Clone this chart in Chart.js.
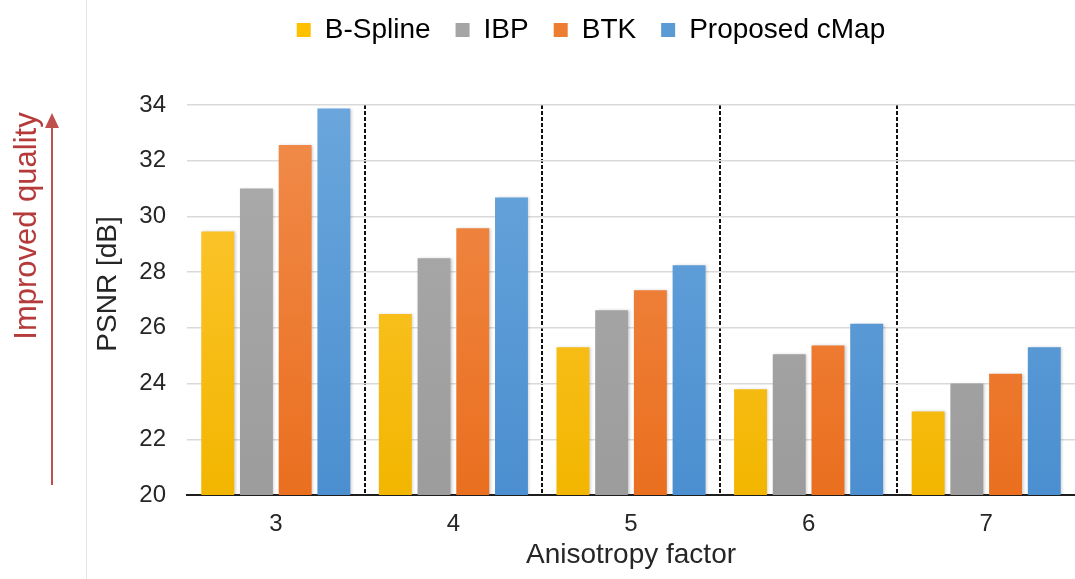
<!DOCTYPE html>
<html>
<head>
<meta charset="utf-8">
<script src="https://cdn.jsdelivr.net/npm/chart.js@4.4.0/dist/chart.umd.min.js"></script>
<style>
  html, body { margin: 0; padding: 0; background: #ffffff; }
  #wrap { width: 1075px; height: 579px; position: relative; }
</style>
</head>
<body>
<div id="wrap"><canvas id="c" width="1075" height="579"></canvas></div>
<script>
// ---- data ----
const categories = ['3', '4', '5', '6', '7'];
const seriesNames = ['B-Spline', 'IBP', 'BTK', 'Proposed cMap'];
const bSpline = [29.46, 26.5, 25.3, 23.8, 23.0];
const ibp = [31.0, 28.5, 26.63, 25.05, 24.0];
const btk = [32.56, 29.58, 27.35, 25.37, 24.35];
const cMap = [33.87, 30.68, 28.25, 26.15, 25.3];
const yMin = 20;
const yMax = 34;
const yStep = 2;
const xTitle = 'Anisotropy factor';
const yTitle = 'PSNR [dB]';
const sideNote = 'Improved quality';

// ---- styles ----
const FONT = '"Liberation Sans", Arial, sans-serif';
const TEXT = '#262626';
const palette = [
  ['#ffc83a', '#f2b600'],
  ['#acacac', '#9c9c9c'],
  ['#f18c4c', '#ea6f1f'],
  ['#6aa6dc', '#4b8fd0']
];
const solid = ['#ffc000', '#a5a5a5', '#ed7d31', '#5b9bd5'];

function gradFill(i) {
  return function(ctx) {
    const chart = ctx.chart;
    const a = chart.chartArea;
    if (!a) return solid[i];
    const g = chart.ctx.createLinearGradient(0, a.top, 0, a.bottom);
    g.addColorStop(0, palette[i][0]);
    g.addColorStop(1, palette[i][1]);
    return g;
  };
}

const allSeries = [bSpline, ibp, btk, cMap];
const datasets = allSeries.map((vals, i) => ({
  label: seriesNames[i],
  data: vals,
  backgroundColor: gradFill(i),
  borderWidth: 0,
  categoryPercentage: 0.872,
  barPercentage: 0.85
}));

// extra space below the legend row
const legendGap = {
  id: 'legendGap',
  beforeLayout(chart) {
    const lg = chart.legend;
    if (lg && !lg._gapPatched) {
      const orig = lg.fit.bind(lg);
      lg.fit = function() { orig(); this.height += 51; };
      lg._gapPatched = true;
    }
  }
};

const sideDecor = {
  id: 'sideDecor',
  beforeDraw(chart) {
    const c = chart.ctx;
    c.save();
    c.strokeStyle = '#e6e6e6';
    c.lineWidth = 1;
    c.beginPath();
    c.moveTo(86.5, 0);
    c.lineTo(86.5, chart.height);
    c.stroke();
    c.restore();
  },
  afterDraw(chart) {
    const c = chart.ctx;
    c.save();
    // arrow
    c.strokeStyle = '#c0504d';
    c.fillStyle = '#c0504d';
    c.lineWidth = 2;
    c.beginPath();
    c.moveTo(52, 485);
    c.lineTo(52, 124);
    c.stroke();
    c.beginPath();
    c.moveTo(52, 113);
    c.lineTo(45, 128);
    c.lineTo(59, 128);
    c.closePath();
    c.fill();
    c.restore();
    // side note
    c.save();
    c.translate(27, 226);
    c.rotate(-Math.PI / 2);
    c.fillStyle = '#b53a3a';
    c.font = '31px ' + FONT;
    c.textAlign = 'center';
    c.textBaseline = 'middle';
    c.fillText(sideNote, 0, 0);
    c.restore();
    // y axis title
    c.save();
    c.translate(108, 284);
    c.rotate(-Math.PI / 2);
    c.fillStyle = TEXT;
    c.font = '28px ' + FONT;
    c.textAlign = 'center';
    c.textBaseline = 'middle';
    c.fillText(yTitle, 0, 0);
    c.restore();
  }
};

const barShadow = {
  id: 'barShadow',
  beforeDatasetsDraw(chart) {
    const c = chart.ctx;
    c.save();
    c.shadowColor = 'rgba(0,0,0,0.22)';
    c.shadowBlur = 3;
    c.shadowOffsetX = 1.5;
    c.shadowOffsetY = 0;
  },
  afterDatasetsDraw(chart) {
    chart.ctx.restore();
  }
};

new Chart(document.getElementById('c'), {
  type: 'bar',
  data: { labels: categories, datasets: datasets },
  plugins: [legendGap, sideDecor, barShadow],
  options: {
    responsive: false,
    animation: false,
    layout: { padding: { left: 107, right: 0, top: -9, bottom: 0 } },
    plugins: {
      legend: {
        position: 'top',
        labels: {
          font: { family: FONT, size: 28 },
          color: TEXT,
          boxWidth: 14,
          boxHeight: 14,
          padding: 25,
          generateLabels(chart) {
            return chart.data.datasets.map((d, i) => ({
              text: d.label,
              fillStyle: solid[i],
              strokeStyle: solid[i],
              lineWidth: 0,
              hidden: false,
              datasetIndex: i
            }));
          }
        }
      },
      tooltip: { enabled: false }
    },
    scales: {
      x: {
        grid: {
          offset: true,
          drawTicks: false,
          lineWidth: 2,
          color(ctx) {
            if (ctx.type !== 'tick' || ctx.index === undefined || ctx.index <= 0 || ctx.index >= categories.length) {
              return 'rgba(0,0,0,0)';
            }
            return '#111111';
          }
        },
        border: { display: true, color: '#1e1e1e', width: 2, dash: [4, 2] },
        ticks: { font: { family: FONT, size: 24 }, color: TEXT, padding: 15 },
        title: {
          display: true,
          text: xTitle,
          font: { family: FONT, size: 28 },
          color: TEXT,
          padding: { top: 0, bottom: 7 }
        },
        afterFit(scale) { scale.height = 84; }
      },
      y: {
        min: yMin,
        max: yMax,
        grid: { color: '#d9d9d9', lineWidth: 1.5, drawTicks: false },
        border: { display: false },
        ticks: {
          stepSize: yStep,
          font: { family: FONT, size: 24 },
          color: TEXT,
          padding: 21
        },
        title: { display: false },
        afterFit(scale) { scale.width = 80; }
      }
    }
  }
});
</script>
</body>
</html>
